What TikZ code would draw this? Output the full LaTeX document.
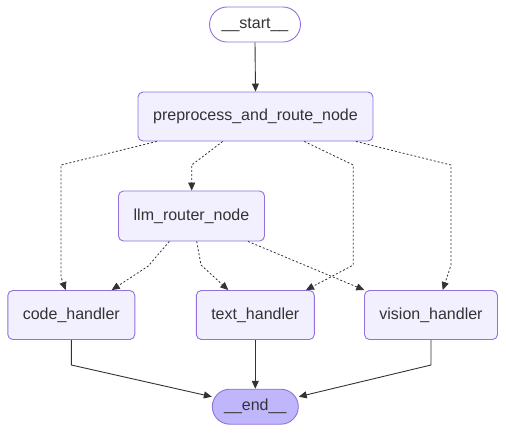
\documentclass[tikz,border=0pt]{standalone}
\usepackage{fontspec}
\setmainfont{Liberation Sans}
\usetikzlibrary{arrows.meta,calc}
\definecolor{nodefill}{HTML}{F2F0FF}
\definecolor{nodeline}{HTML}{9370DB}
\definecolor{endfill}{HTML}{BFB6FC}
\definecolor{ink}{HTML}{333333}
\tikzset{
  box/.style={draw=nodeline, fill=nodefill, line width=0.9pt, rounded corners=5pt,
    text=ink, font=\fontsize{16}{19}\selectfont, inner sep=0pt, minimum height=49pt},
  stadium/.style={draw=nodeline, line width=0.9pt, rounded corners=17.5pt,
    text=ink, font=\fontsize{16}{19}\selectfont, inner sep=0pt, minimum height=35pt},
  solidedge/.style={draw=ink, line width=0.9pt, -{Triangle[length=8pt,width=7pt]}},
  dashedge/.style={draw=ink, line width=0.8pt, dash pattern=on 2pt off 2pt, -{Triangle[length=8pt,width=7pt]}},
}
\begin{document}
\begin{tikzpicture}[x=1pt,y=-1pt]
\useasboundingbox (0,0) rectangle (506,432);
\node[stadium, fill=white, minimum width=91pt] (start) at (255,24.5) {\_\_start\_\_};
\node[box, minimum width=235pt] (pre) at (255.5,116.5) {preprocess\_and\_route\_node};
\node[box, minimum width=146pt, minimum height=50pt] (llm) at (191.5,216) {llm\_router\_node};
\node[box, minimum width=127pt] (code) at (71.3,315) {code\_handler};
\node[box, minimum width=118pt] (text) at (255.3,315) {text\_handler};
\node[box, minimum width=133pt] (vision) at (431,315) {vision\_handler};
\node[stadium, fill=endfill, minimum width=86pt] (end) at (255.3,406.7) {\_\_end\_\_};

\draw[solidedge] (start.south) -- (pre.north);
% dashed edges from preprocess
\draw[dashedge] ($(pre.south)+(-98.8,0)$) -- (61,165) -- (61,277) -- ($(code.north)+(-5.6,0)$);
\draw[dashedge] ($(pre.south)+(-32.8,0)$) -- (191.7,165) -- (llm.north -| 191.7,0);
\draw[dashedge] ($(pre.south)+(48.8,0)$) -- (353.3,165) -- (353.3,265) -- ($(text.north)+(50.7,0)$);
\draw[dashedge] ($(pre.south)+(100.5,0)$) -- (451,165) -- (451,265) -- ($(vision.north)+(11.7,0)$);
% dashed edges from llm router
\draw[dashedge] ($(llm.south)+(-22.2,0)$) -- (148.3,266) -- ($(code.north)+(40.4,0)$);
\draw[dashedge] ($(llm.south)+(5.2,0)$) -- (201,265) -- ($(text.north)+(-27,0)$);
\draw[dashedge] ($(llm.south)+(56.5,0)$) -- ($(vision.north)+(-66.7,0)$);
% solid edges to end
\draw[solidedge] (code.south) -- (71.3,365) -- ($(end.west)+(0,-10)$);
\draw[solidedge] (text.south) -- (end.north);
\draw[solidedge] (vision.south) -- (431,365) -- ($(end.east)+(0,-10)$);
\end{tikzpicture}
\end{document}
